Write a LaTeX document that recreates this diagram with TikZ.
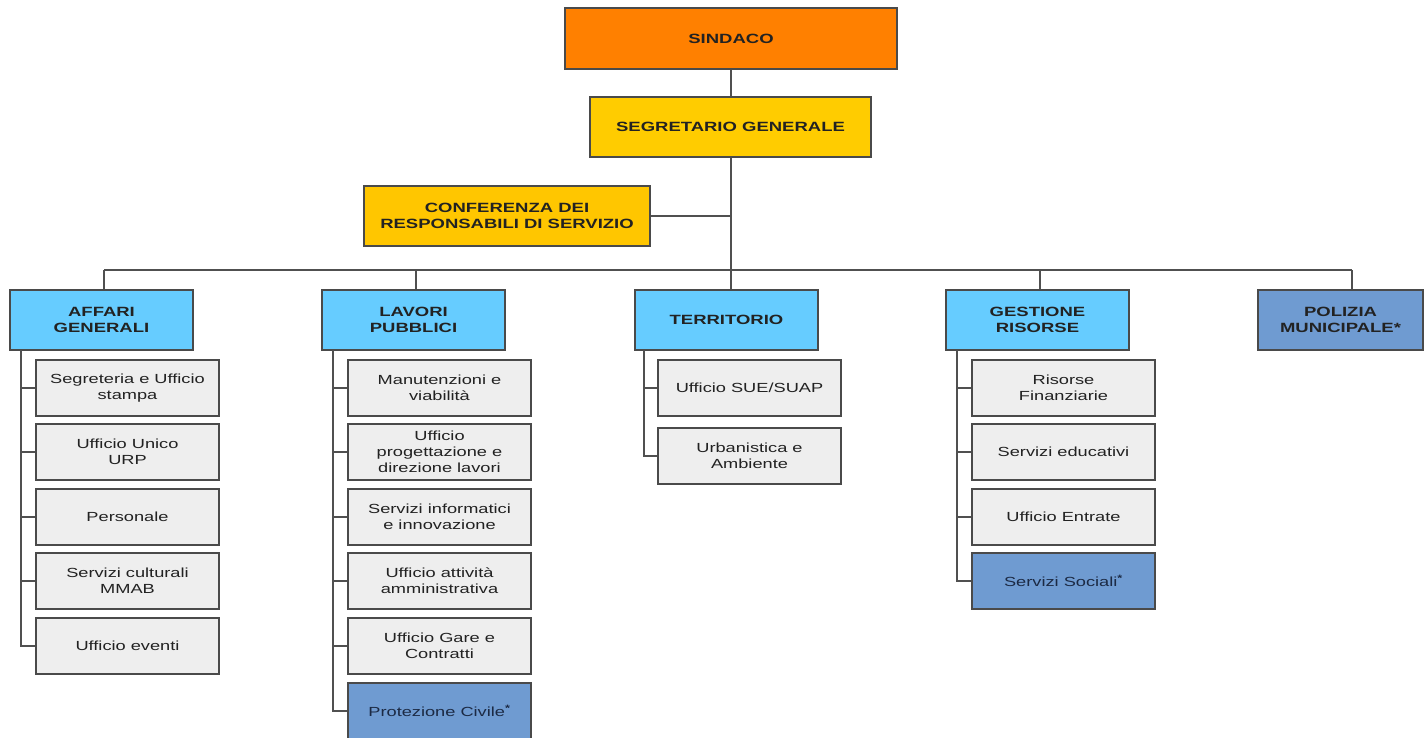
\documentclass[tikz,border=0pt]{standalone}
\usepackage{fontspec}
\setmainfont{Liberation Sans}[FakeStretch=1.38]
\definecolor{orangeS}{HTML}{FF8000}
\definecolor{yellowS}{HTML}{FFCC00}
\definecolor{yellowC}{HTML}{FFC600}
\definecolor{deptblue}{HTML}{66CCFF}
\definecolor{steel}{HTML}{6F9BD1}
\definecolor{subgray}{HTML}{EEEEEE}
\definecolor{bordergray}{HTML}{4A4A4A}
\definecolor{linegray}{HTML}{505050}
\definecolor{textdark}{HTML}{222222}
\definecolor{navytext}{HTML}{1C2A44}
\tikzset{
  base/.style={draw=bordergray, line width=1.4pt, minimum width=183pt, minimum height=56pt,
    align=center, inner sep=0pt, text=textdark, font=\fontsize{13.2}{16.2}\selectfont},
  subbox/.style={base, fill=subgray},
  starbox/.style={base, fill=steel, text=navytext},
  dept/.style={base, minimum height=60pt, fill=deptblue, font=\fontsize{13.4}{16.5}\selectfont\bfseries},
  police/.style={base, minimum height=60pt, fill=steel, font=\fontsize{13.4}{16.5}\selectfont\bfseries},
  topbox/.style={base, font=\fontsize{13.4}{16.5}\selectfont\bfseries},
  conn/.style={draw=linegray, line width=1.2pt}
}
\begin{document}
\begin{tikzpicture}[x=1pt,y=-1pt]
\useasboundingbox (0,0) rectangle (1424,738);
\clip (0,0) rectangle (1424,738);
% top
\node[topbox, fill=orangeS, minimum width=332pt, minimum height=61pt] (sindaco) at (731,38.5) {SINDACO};
\node[topbox, fill=yellowS, minimum width=281pt, minimum height=60pt] (segr) at (730.5,127) {SEGRETARIO GENERALE};
\node[topbox, fill=yellowC, minimum width=286pt, minimum height=60pt] (conf) at (507,216) {CONFERENZA DEI\\RESPONSABILI DI SERVIZIO};
% departments
\node[dept] (aff) at (101.5,320) {AFFARI\\GENERALI};
\node[dept] (lav) at (413.5,320) {LAVORI\\PUBBLICI};
\node[dept] (ter) at (726.5,320) {TERRITORIO};
\node[dept] (ges) at (1037.5,320) {GESTIONE\\RISORSE};
\node[police, minimum width=165pt] (pol) at (1340.5,320) {POLIZIA\\MUNICIPALE*};
% trunk and bus
\coordinate (trunk) at (731,270);
\coordinate (dA) at (104,270);
\coordinate (dL) at (416,270);
\coordinate (dG) at (1040,270);
\coordinate (dP) at (1352,270);
\draw[conn] (sindaco.south -| trunk) -- (segr.north -| trunk);
\draw[conn] (segr.south -| trunk) -- (ter.north -| trunk);
\draw[conn] (conf.east) -- (conf.east -| trunk);
\draw[conn] (dA) -- (dP);
\draw[conn] (dA) -- (dA |- aff.north);
\draw[conn] (dL) -- (dL |- lav.north);
\draw[conn] (dG) -- (dG |- ges.north);
\draw[conn] (dP) -- (dP |- pol.north);
% Affari generali
\node[subbox] (a1) at (127.5,388) {Segreteria e Ufficio\\stampa};
\node[subbox] (a2) at (127.5,452) {Ufficio Unico\\URP};
\node[subbox] (a3) at (127.5,517) {Personale};
\node[subbox] (a4) at (127.5,581) {Servizi culturali\\MMAB};
\node[subbox] (a5) at (127.5,646) {Ufficio eventi};
\coordinate (aL) at (21,350);
\draw[conn] (aL) |- (a5.west);
\foreach \n in {a1,a2,a3,a4} \draw[conn] (aL |- \n.west) -- (\n.west);
% Lavori pubblici
\node[subbox] (l1) at (439.5,388) {Manutenzioni e\\viabilità};
\node[subbox] (l2) at (439.5,452) {Ufficio\\progettazione e\\direzione lavori};
\node[subbox] (l3) at (439.5,517) {Servizi informatici\\e innovazione};
\node[subbox] (l4) at (439.5,581) {Ufficio attività\\amministrativa};
\node[subbox] (l5) at (439.5,646) {Ufficio Gare e\\Contratti};
\node[starbox] (l6) at (439.5,711) {Protezione Civile\textsuperscript{\bfseries*}};
\coordinate (lL) at (333,350);
\draw[conn] (lL) |- (l6.west);
\foreach \n in {l1,l2,l3,l4,l5} \draw[conn] (lL |- \n.west) -- (\n.west);
% Territorio
\node[subbox] (t1) at (749.5,388) {Ufficio SUE/SUAP};
\node[subbox] (t2) at (749.5,456) {Urbanistica e\\Ambiente};
\coordinate (tL) at (644,350);
\draw[conn] (tL) |- (t2.west);
\draw[conn] (tL |- t1.west) -- (t1.west);
% Gestione risorse
\node[subbox] (g1) at (1063.5,388) {Risorse\\Finanziarie};
\node[subbox] (g2) at (1063.5,452) {Servizi educativi};
\node[subbox] (g3) at (1063.5,517) {Ufficio Entrate};
\node[starbox] (g4) at (1063.5,581) {Servizi Sociali\textsuperscript{\bfseries*}};
\coordinate (gL) at (957,350);
\draw[conn] (gL) |- (g4.west);
\foreach \n in {g1,g2,g3} \draw[conn] (gL |- \n.west) -- (\n.west);
\end{tikzpicture}
\end{document}
